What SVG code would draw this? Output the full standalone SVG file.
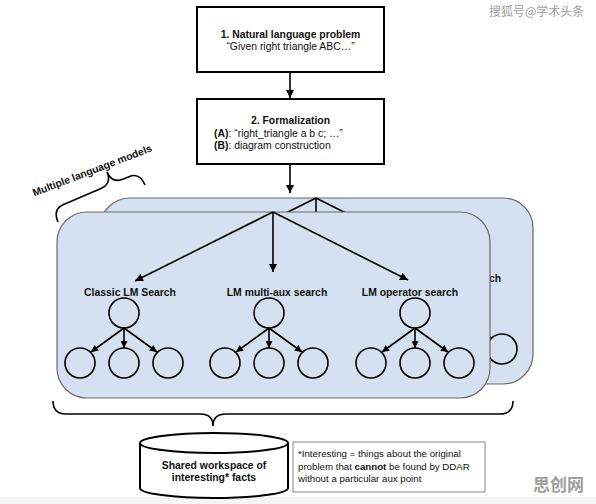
<svg xmlns="http://www.w3.org/2000/svg" xmlns:xlink="http://www.w3.org/1999/xlink" width="596" height="504" viewBox="0 0 596 504">
<style>
.box{fill:#fff;stroke:#000;stroke-width:2}
.card{fill:#d5e1f0;stroke:#6b6b6b;stroke-width:1.2}
.t{font-family:"Liberation Sans",Arial,sans-serif;font-size:10.4px;fill:#111}
.b{font-weight:bold}
.ln{stroke:#000;stroke-width:1.6;fill:none}
.c{fill:none;stroke:#000;stroke-width:1.6}
.wm{font-family:"Noto Sans CJK SC","Noto Sans",sans-serif;fill:#a0a0a0}
</style>
<defs>
<marker id="ah" viewBox="0 0 10 10" refX="10" refY="5" markerWidth="9" markerHeight="8" markerUnits="userSpaceOnUse" orient="auto"><path d="M0,0 L10,5 L0,10 z" fill="#000"/></marker>
<marker id="ahs" viewBox="0 0 10 10" refX="10" refY="5" markerWidth="8" markerHeight="7" markerUnits="userSpaceOnUse" orient="auto"><path d="M0,0 L10,5 L0,10 z" fill="#000"/></marker>
</defs>
<rect x="0" y="497" width="596" height="7" fill="#f5f5f5"/>
<g id="watermarks">
<text class="wm" x="489" y="16" font-size="12">搜狐号@学术头条</text>
<text class="wm" x="533" y="491" font-size="17" font-weight="bold">思创网</text>
</g>
<g id="box1">
<rect class="box" x="197" y="7" width="187" height="65"/>
<text class="t b" x="290.5" y="38" text-anchor="middle">1. Natural language problem</text>
<text class="t" x="290.5" y="50" text-anchor="middle">“Given right triangle ABC…”</text>
</g>
<g id="box2">
<rect class="box" x="197" y="99" width="187" height="65"/>
<text class="t b" x="290.5" y="124" text-anchor="middle">2. Formalization</text>
<text class="t" x="214" y="137"><tspan class="b">(A)</tspan>: “right_triangle a b c; …”</text>
<text class="t" x="214" y="149"><tspan class="b">(B)</tspan>: diagram construction</text>
</g>
<g id="models-brace">
<path class="ln" d="M0,0 Q0,-14 12,-14 L52,-14 Q64.7,-14 64.7,-27 Q64.7,-14 77,-14 L83,-14 Q94.6,-14 94.6,0" transform="translate(58,222) rotate(-23)"/>
<text class="t b" text-anchor="middle" transform="translate(92,170) rotate(-21)" y="4">Multiple language models</text>
</g>
<g id="back-card">
<rect class="card" x="100" y="198" width="433" height="186" rx="30"/>
<use xlink:href="#front-content" href="#front-content" transform="translate(43,-14)"/>
</g>
<g id="front-card">
<rect class="card" x="57" y="212" width="433" height="186" rx="30"/>
</g>
<g id="front-content">
<g id="card-connectors">
<path class="ln" d="M273,212 L135,281" marker-end="url(#ah)"/>
<path class="ln" d="M273,212 L273,272" marker-end="url(#ah)"/>
<path class="ln" d="M273,212 L408,280" marker-end="url(#ah)"/>
<path class="ln" d="M124,328 L91,352" marker-end="url(#ahs)"/>
<path class="ln" d="M124,328 L124,348" marker-end="url(#ahs)"/>
<path class="ln" d="M124,328 L157,352" marker-end="url(#ahs)"/>
<path class="ln" d="M269,328 L236,352" marker-end="url(#ahs)"/>
<path class="ln" d="M269,328 L269,348" marker-end="url(#ahs)"/>
<path class="ln" d="M269,328 L302,352" marker-end="url(#ahs)"/>
<path class="ln" d="M415,328 L382,352" marker-end="url(#ahs)"/>
<path class="ln" d="M415,328 L415,348" marker-end="url(#ahs)"/>
<path class="ln" d="M415,328 L448,352" marker-end="url(#ahs)"/>
</g>
<g id="classic-search">
<text class="t b" x="130" y="296" text-anchor="middle">Classic LM Search</text>
<circle class="c" cx="124" cy="313" r="15"/>
<circle class="c" cx="80" cy="363" r="15"/>
<circle class="c" cx="124" cy="363" r="15"/>
<circle class="c" cx="168" cy="363" r="15"/>
</g>
<g id="multi-aux-search">
<text class="t b" x="277" y="296" text-anchor="middle">LM multi-aux search</text>
<circle class="c" cx="269" cy="313" r="15"/>
<circle class="c" cx="225" cy="363" r="15"/>
<circle class="c" cx="269" cy="363" r="15"/>
<circle class="c" cx="313" cy="363" r="15"/>
</g>
<g id="operator-search">
<text class="t b" x="410" y="296" text-anchor="middle">LM operator search</text>
<circle class="c" cx="415" cy="313" r="15"/>
<circle class="c" cx="371" cy="363" r="15"/>
<circle class="c" cx="415" cy="363" r="15"/>
<circle class="c" cx="459" cy="363" r="15"/>
</g>
</g>
<g id="connectors">
<path class="ln" d="M290,72 L290,98" marker-end="url(#ah)"/>
<path class="ln" d="M290,164 L290,193" marker-end="url(#ah)"/>
<path class="ln" d="M53,401 Q53,414 66,414 L200,414 Q213,414 213,426 Q213,414 226,414 L500,414 Q513,414 513,401"/>
</g>
<g id="workspace">
<path class="box" d="M140,443 L140,488 A74,10 0 0 0 288,488 L288,443"/>
<ellipse class="box" cx="214" cy="443" rx="74" ry="10"/>
<text class="t b" x="214" y="469" text-anchor="middle">Shared workspace of</text>
<text class="t b" x="214" y="481" text-anchor="middle">interesting* facts</text>
</g>
<g id="note">
<rect x="293" y="442" width="192" height="50" fill="#fff" stroke="#888" stroke-width="1"/>
<text class="t" x="298" y="457" style="font-size:9.7px">*Interesting = things about the original</text>
<text class="t" x="298" y="470" style="font-size:9.7px">problem that <tspan class="b">cannot</tspan> be found by DDAR</text>
<text class="t" x="298" y="482" style="font-size:9.7px">without a particular aux point</text>
</g>
</svg>
